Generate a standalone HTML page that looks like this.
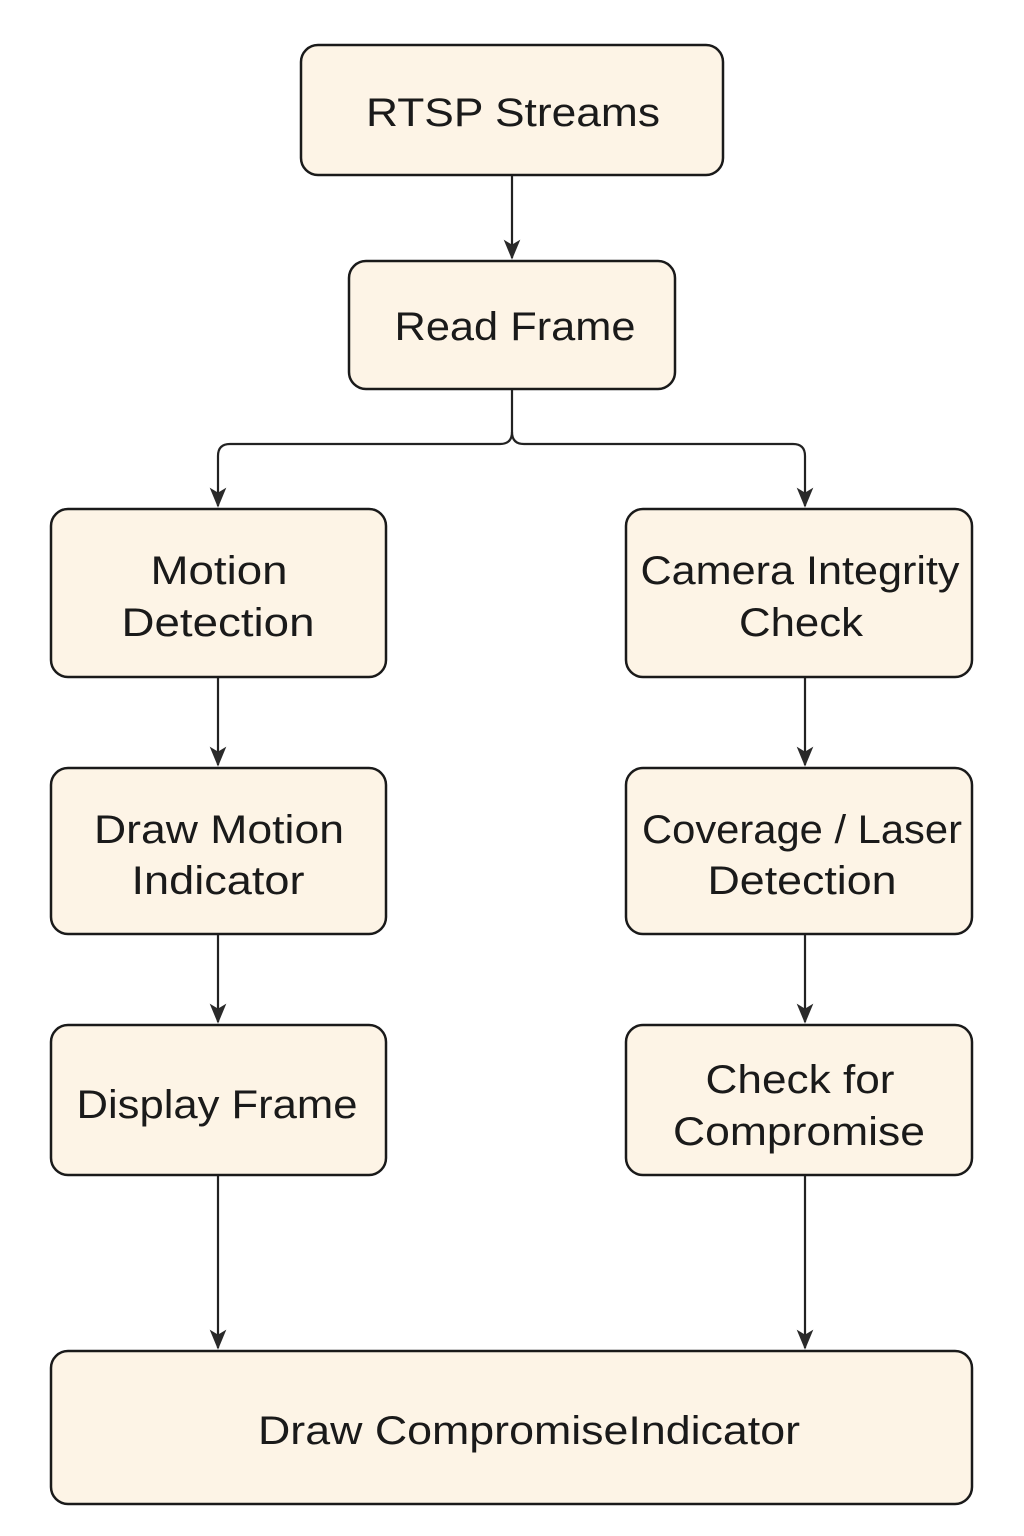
<!DOCTYPE html>
<html><head><style>body{margin:0;background:#fff}svg{display:block}</style></head><body>
<svg width="1024" height="1536" viewBox="0 0 1024 1536" xmlns="http://www.w3.org/2000/svg">
<defs><marker id="a" markerWidth="10" markerHeight="10" refX="8" refY="5" orient="auto" markerUnits="userSpaceOnUse" viewBox="0 0 10 10"><path d="M0,0 L10,5 L0,10 L3,5 z" fill="#222"/></marker>
<marker id="b" markerWidth="20" markerHeight="24" refX="22" refY="12" orient="auto" markerUnits="userSpaceOnUse" viewBox="0 0 24 24"><path d="M0,2 L24,12 L0,22 L6,12 z" fill="#2a2a2a"/></marker></defs>
<g fill="#fdf4e6" stroke="#1a1a1a" stroke-width="2.5">
<rect x="301" y="45" width="422" height="130" rx="17"/>
<rect x="349" y="261" width="326" height="128" rx="17"/>
<rect x="51" y="509" width="335" height="168" rx="17"/>
<rect x="626" y="509" width="346" height="168" rx="17"/>
<rect x="51" y="768" width="335" height="166" rx="17"/>
<rect x="626" y="768" width="346" height="166" rx="17"/>
<rect x="51" y="1025" width="335" height="150" rx="17"/>
<rect x="626" y="1025" width="346" height="150" rx="17"/>
<rect x="51" y="1351" width="921" height="153" rx="17"/>
</g>
<g fill="none" stroke="#222" stroke-width="2.2" marker-end="url(#b)">
<path d="M512 176 V258"/>
<path d="M512 390 V432 Q512 444 500 444 H230 Q218 444 218 456 V506"/>
<path d="M512 432 Q512 444 524 444 H793 Q805 444 805 456 V506"/>
<path d="M218 678 V765"/>
<path d="M805 678 V765"/>
<path d="M218 935 V1022"/>
<path d="M805 935 V1022"/>
<path d="M218 1176 V1348"/>
<path d="M805 1176 V1348"/>
</g>
<g font-family="Liberation Sans, DejaVu Sans, sans-serif" font-size="40" fill="#1a1a1a" text-anchor="middle" lengthAdjust="spacingAndGlyphs">
<text x="513" y="126" textLength="294" lengthAdjust="spacingAndGlyphs">RTSP Streams</text>
<text x="515" y="340" textLength="241" lengthAdjust="spacingAndGlyphs">Read Frame</text>
<text x="219" y="584" textLength="137" lengthAdjust="spacingAndGlyphs">Motion</text>
<text x="218" y="636" textLength="193" lengthAdjust="spacingAndGlyphs">Detection</text>
<text x="800" y="584" textLength="319" lengthAdjust="spacingAndGlyphs">Camera Integrity</text>
<text x="801" y="636" textLength="124" lengthAdjust="spacingAndGlyphs">Check</text>
<text x="219" y="843" textLength="250" lengthAdjust="spacingAndGlyphs">Draw Motion</text>
<text x="218" y="894" textLength="173" lengthAdjust="spacingAndGlyphs">Indicator</text>
<text x="802" y="843" textLength="320" lengthAdjust="spacingAndGlyphs">Coverage / Laser</text>
<text x="802" y="894" textLength="189" lengthAdjust="spacingAndGlyphs">Detection</text>
<text x="217" y="1118" textLength="281" lengthAdjust="spacingAndGlyphs">Display Frame</text>
<text x="800" y="1093" textLength="189" lengthAdjust="spacingAndGlyphs">Check for</text>
<text x="799" y="1145" textLength="252" lengthAdjust="spacingAndGlyphs">Compromise</text>
<text x="529" y="1444" textLength="542" lengthAdjust="spacingAndGlyphs">Draw CompromiseIndicator</text>
</g>
</svg>
</body></html>
